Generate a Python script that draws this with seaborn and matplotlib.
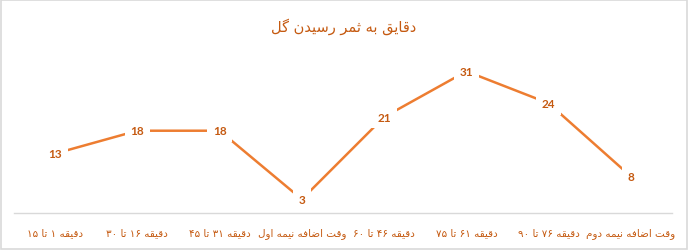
import re
import matplotlib
matplotlib.use("Agg")
import matplotlib.pyplot as plt
import seaborn as sns
import pandas as pd

# --- data -------------------------------------------------------------
title = "دقایق به ثمر رسیدن گل"
categories = [
    "دقیقه ۱ تا ۱۵",
    "دقیقه ۱۶ تا ۳۰",
    "دقیقه ۳۱ تا ۴۵",
    "وقت اضافه نیمه اول",
    "دقیقه ۴۶ تا ۶۰",
    "دقیقه ۶۱ تا ۷۵",
    "دقیقه ۷۶ تا ۹۰",
    "وقت اضافه نیمه دوم",
]
goals = [13, 18, 18, 3, 21, 31, 24, 8]

# --- minimal Persian shaping for matplotlib (no native RTL support) ----
# char: (isolated, final, initial, medial); right-joining letters lack ini/med
FORMS = {
    "ا": ("\uFE8D", "\uFE8E", None, None),
    "ب": ("\uFE8F", "\uFE90", "\uFE91", "\uFE92"),
    "ت": ("\uFE95", "\uFE96", "\uFE97", "\uFE98"),
    "ث": ("\uFE99", "\uFE9A", "\uFE9B", "\uFE9C"),
    "د": ("\uFEA9", "\uFEAA", None, None),
    "ر": ("\uFEAD", "\uFEAE", None, None),
    "س": ("\uFEB1", "\uFEB2", "\uFEB3", "\uFEB4"),
    "ض": ("\uFEBD", "\uFEBE", "\uFEBF", "\uFEC0"),
    "ف": ("\uFED1", "\uFED2", "\uFED3", "\uFED4"),
    "ق": ("\uFED5", "\uFED6", "\uFED7", "\uFED8"),
    "ل": ("\uFEDD", "\uFEDE", "\uFEDF", "\uFEE0"),
    "م": ("\uFEE1", "\uFEE2", "\uFEE3", "\uFEE4"),
    "ن": ("\uFEE5", "\uFEE6", "\uFEE7", "\uFEE8"),
    "ه": ("\uFEE9", "\uFEEA", "\uFEEB", "\uFEEC"),
    "و": ("\uFEED", "\uFEEE", None, None),
    "ی": ("\uFBFC", "\uFBFD", "\uFBFE", "\uFBFF"),
    "گ": ("\uFB92", "\uFB93", "\uFB94", "\uFB95"),
}


def dual(c):
    return c in FORMS and FORMS[c][2] is not None


def shape(text):
    out = []
    for i, c in enumerate(text):
        if c not in FORMS:
            out.append(c)
            continue
        prev = text[i - 1] if i > 0 else ""
        nxt = text[i + 1] if i + 1 < len(text) else ""
        jp = dual(prev)
        jn = dual(c) and nxt in FORMS
        iso, fin, ini, med = FORMS[c]
        if jp and jn:
            out.append(med)
        elif jp:
            out.append(fin)
        elif jn:
            out.append(ini)
        else:
            out.append(iso)
    visual = "".join(out)[::-1]
    # digit runs keep left-to-right order
    return re.sub("[\u06F0-\u06F9]+", lambda m: m.group(0)[::-1], visual)


# --- plot ---------------------------------------------------------------
sns.set_theme(style="white")
plt.rcParams["font.family"] = ["DejaVu Sans"]

line_color = "#ED7D31"
text_color = "#C55A11"

df = pd.DataFrame({"pos": range(len(goals)), "goals": goals})

fig = plt.figure(figsize=(6.88, 2.51), dpi=100)
ax = fig.add_axes([14 / 688, 37 / 251, 658 / 688, 160 / 251])

sns.lineplot(data=df, x="pos", y="goals", ax=ax, color=line_color,
             linewidth=1.8, zorder=2)

for x, y in zip(df["pos"], df["goals"]):
    ax.text(x, y, str(y), ha="center", va="center", fontsize=8.5,
            fontweight="bold", color=text_color, family="Lato", zorder=3,
            bbox=dict(boxstyle="square,pad=0.5", fc="white", ec="none"))

ax.set_xlim(-0.5, len(goals) - 0.5)
ax.set_ylim(0, 35)
ax.set_xticks(range(len(categories)))
ax.set_xticklabels([shape(c) for c in categories], fontsize=7.5,
                   color=text_color)
ax.tick_params(axis="x", length=0, pad=10)
ax.set_yticks([])
ax.set_xlabel("")
ax.set_ylabel("")
for side in ("left", "right", "top"):
    ax.spines[side].set_visible(False)
ax.spines["bottom"].set_color("#D9D9D9")
ax.spines["bottom"].set_linewidth(1)

fig.text(0.5, 0.895, shape(title), ha="center", va="center",
         fontsize=10.5, color=text_color)

# chart border
fig.patches.append(plt.Rectangle((0.001, 0.002), 0.997, 0.995,
                                 transform=fig.transFigure, fill=False,
                                 ec="#D9D9D9", lw=1.2))

fig.savefig("out.png", dpi=100, facecolor="white")
